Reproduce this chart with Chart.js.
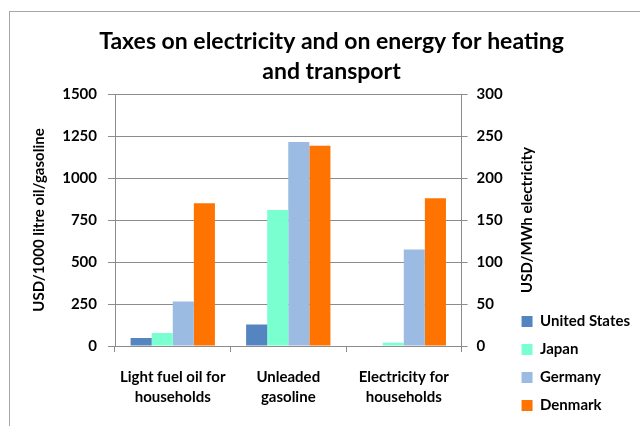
<!DOCTYPE html>
<html>
<head>
<meta charset="utf-8">
<script src="https://cdn.jsdelivr.net/npm/chart.js@4"></script>
<style>
  html, body { margin: 0; padding: 0; background: #fff; overflow: hidden; }
  #frame {
    position: absolute; left: 9px; top: 11px;
    width: 700px; height: 500px;
    border-left: 1px solid #a6a6a6; border-top: 1px solid #a6a6a6;
  }
  #chartBox { position: absolute; left: 0; top: 0; width: 630px; height: 414px; }
</style>
</head>
<body>
<div id="frame"><div id="chartBox"><canvas id="taxChart"></canvas></div></div>
<script>
// chart data
var categories = [["Light fuel oil for", "households"], ["Unleaded", "gasoline"], ["Electricity for", "households"]];
var countries = ["United States", "Japan", "Germany", "Denmark"];
var countryColors = ["#5585c0", "#7affd0", "#9bbbe3", "#ff7300"];

// USD/1000 litre oil/gasoline (left axis)
var fuelUnitedStates = [48, 128, null];
var fuelJapan = [78, 810, null];
var fuelGermany = [265, 1215, null];
var fuelDenmark = [850, 1192, null];

// USD/MWh electricity (right axis)
var electricityUnitedStates = [null, null, 0];
var electricityJapan = [null, null, 4];
var electricityGermany = [null, null, 115];
var electricityDenmark = [null, null, 176];

var fuelTicks = [0, 250, 500, 750, 1000, 1250, 1500];
var electricityTicks = [0, 50, 100, 150, 200, 250, 300];

var fuelSeries = [fuelUnitedStates, fuelJapan, fuelGermany, fuelDenmark];
var electricitySeries = [electricityUnitedStates, electricityJapan, electricityGermany, electricityDenmark];

var gridGray = "#8c8c8c";
var labelFont = { family: "Lato", size: 15, weight: "bold" };
var axisTitleFont = { family: "Lato", size: 15, weight: "bold", lineHeight: 1.2 };

var datasets = [];
countries.forEach(function (name, i) {
    datasets.push({ label: name, data: fuelSeries[i], yAxisID: "y", backgroundColor: countryColors[i] });
});
countries.forEach(function (name, i) {
    datasets.push({ label: name, data: electricitySeries[i], yAxisID: "y1", backgroundColor: countryColors[i] });
});

// right axis title reads bottom-to-top like the left one, so draw it here
var rightTitlePlugin = {
    id: "rightTitle",
    afterDraw: function (chart) {
        var t = chart.options.scales.y1.title;
        var area = chart.chartArea;
        var ctx = chart.ctx;
        ctx.save();
        ctx.translate(517, (area.top + area.bottom) / 2);
        ctx.rotate(-Math.PI / 2);
        ctx.font = "bold 15px Lato";
        ctx.fillStyle = "#000";
        ctx.textAlign = "center";
        ctx.textBaseline = "middle";
        ctx.fillText(t.text, 0, 0);
        ctx.restore();
    }
};

function plainNumber(v) { return String(v); }

var taxContext = document.getElementById("taxChart").getContext("2d");
var taxChart = new Chart(taxContext, {
    type: "bar",
    data: {
        labels: categories,
        datasets: datasets
    }, //end data
    options: {
        responsive: true,
        maintainAspectRatio: false,
        animation: false,
        skipNull: true,
        barPercentage: 1,
        categoryPercentage: 0.73,
        layout: { padding: { left: 13, right: 0, top: 0, bottom: 0 } },
        plugins: {
            title: {
                display: true,
                text: ["Taxes on electricity and on energy for heating", "and transport"],
                color: "#000",
                font: { family: "Lato", size: 23, weight: "bold", lineHeight: 30 / 23 },
                padding: { top: 15, bottom: 7 }
            },
            legend: {
                display: true,
                position: "right",
                align: "end",
                maxWidth: 133,
                labels: {
                    color: "#000",
                    font: labelFont,
                    boxWidth: 11,
                    boxHeight: 11,
                    padding: 13,
                    filter: function (item) { return item.datasetIndex < countries.length; }
                }
            },
            tooltip: { enabled: false }
        },
        scales: {
            x: {
                grid: { offset: true, drawOnChartArea: false, drawTicks: true, tickLength: 6, color: gridGray },
                border: { display: true, color: gridGray },
                ticks: { color: "#000", font: { family: "Lato", size: 15, weight: "bold", lineHeight: 20 / 15 }, padding: 15, maxRotation: 0 },
                afterFit: function (scale) { scale.height = 80; }
            },
            y: {
                position: "left",
                min: 0,
                max: fuelTicks[fuelTicks.length - 1],
                afterBuildTicks: function (scale) {
                    scale.ticks = fuelTicks.map(function (v) { return { value: v }; });
                },
                grid: { color: gridGray, tickLength: 7 },
                border: { display: true, color: gridGray },
                ticks: { color: "#000", font: labelFont, padding: 11, callback: plainNumber },
                title: { display: true, text: "USD/1000 litre oil/gasoline", color: "#000", font: axisTitleFont, padding: { top: 7, bottom: 0 } },
                afterFit: function (scale) { scale.width = 92; }
            },
            y1: {
                position: "right",
                min: 0,
                max: electricityTicks[electricityTicks.length - 1],
                afterBuildTicks: function (scale) {
                    scale.ticks = electricityTicks.map(function (v) { return { value: v }; });
                },
                grid: { drawOnChartArea: false, color: gridGray, tickLength: 6 },
                border: { display: true, color: gridGray },
                ticks: { color: "#000", font: labelFont, padding: 9, callback: plainNumber },
                title: { display: false, text: "USD/MWh electricity" },
                afterFit: function (scale) { scale.width = 47; }
            }
        }
    }, //end options
    plugins: [rightTitlePlugin]
}); //end taxChart
</script>
</body>
</html>
